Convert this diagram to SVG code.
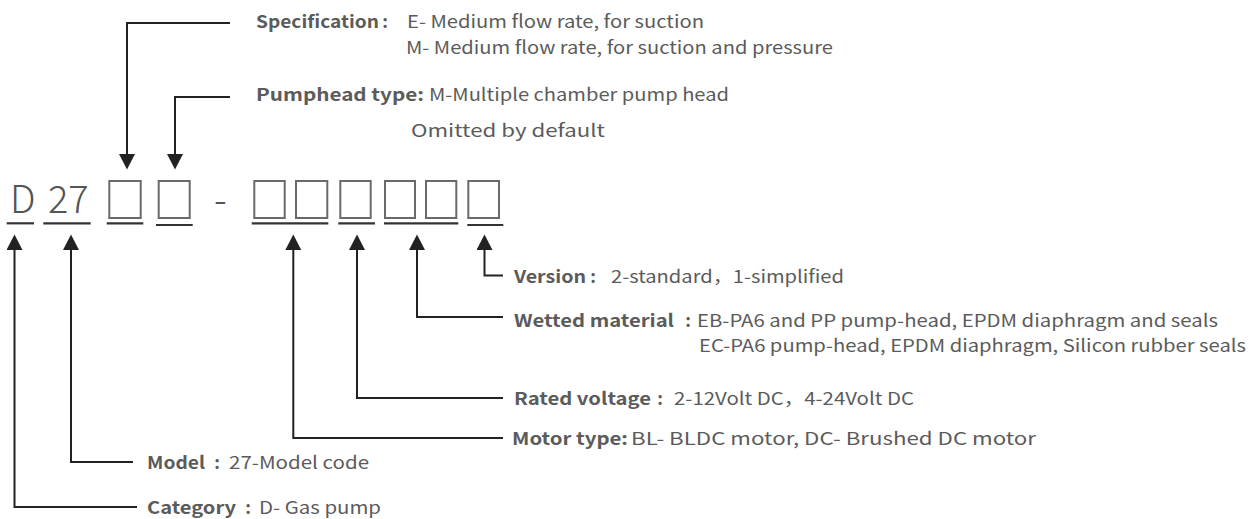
<svg xmlns="http://www.w3.org/2000/svg" width="1257" height="519" viewBox="0 0 1257 519">
<defs>
<style>
.t{font-family:"Noto Sans CJK SC","Noto Sans",sans-serif;font-size:17.5px;fill:#5b5b5b}
.b{font-weight:bold}
.k{text-anchor:middle}
.big{font-family:"Noto Sans CJK SC","Noto Sans",sans-serif;font-size:38px;font-weight:300;fill:#555}
.box{fill:none;stroke:#6a6a6a;stroke-width:2}
.ul{stroke:#333;stroke-width:2.2}
.c{fill:none;stroke:#222;stroke-width:2}
</style>
<marker id="ah" markerUnits="userSpaceOnUse" markerWidth="16" markerHeight="16" refX="0" refY="8" orient="auto" viewBox="0 0 16 16">
<path d="M0,0 L15.5,8 L0,16 z" fill="#222"/>
</marker>
</defs>
<rect width="1257" height="519" fill="#fff"/>

<g id="code">
<text class="big" x="10" y="213">D</text>
<text class="big" x="48" y="213">27</text>
<text class="big" x="214" y="213">-</text>
<rect class="box" x="109.3" y="181" width="31.4" height="37"/>
<rect class="box" x="158.7" y="181" width="31" height="37"/>
<rect class="box" x="254.3" y="181" width="30.4" height="37"/>
<rect class="box" x="296" y="181" width="31.3" height="37"/>
<rect class="box" x="340.3" y="181" width="30.4" height="37"/>
<rect class="box" x="385" y="181" width="30" height="37"/>
<rect class="box" x="426" y="181" width="30.3" height="37"/>
<rect class="box" x="468.3" y="181" width="30.7" height="37"/>
<line class="ul" x1="6.7" y1="223.3" x2="34" y2="223.3"/>
<line class="ul" x1="43.3" y1="223.3" x2="90.7" y2="223.3"/>
<line class="ul" x1="106.7" y1="223.3" x2="143.3" y2="223.3"/>
<line class="ul" x1="156" y1="225" x2="192.7" y2="225"/>
<line class="ul" x1="251.7" y1="223.3" x2="328.3" y2="223.3"/>
<line class="ul" x1="338.3" y1="223.3" x2="375" y2="223.3"/>
<line class="ul" x1="384" y1="223.3" x2="458.3" y2="223.3"/>
<line class="ul" x1="467.3" y1="225" x2="503.3" y2="225"/>
</g>

<g id="connectors">
<path class="c" d="M230,23 H127 V154" marker-end="url(#ah)"/>
<path class="c" d="M230,97 H175 V154" marker-end="url(#ah)"/>
<path class="c" d="M137,507 H14.5 V250" marker-end="url(#ah)"/>
<path class="c" d="M133,462 H71 V250" marker-end="url(#ah)"/>
<path class="c" d="M503,438 H293.3 V250" marker-end="url(#ah)"/>
<path class="c" d="M503,398 H357 V250" marker-end="url(#ah)"/>
<path class="c" d="M503,317 H417 V250" marker-end="url(#ah)"/>
<path class="c" d="M503,275.5 H484.5 V250" marker-end="url(#ah)"/>
</g>

<g id="specification">
<text class="t b" x="256" y="28" textLength="123" lengthAdjust="spacingAndGlyphs">Specification</text>
<text class="t b k" x="385" y="28">:</text>
<text class="t" x="407" y="28" textLength="297" lengthAdjust="spacingAndGlyphs">E- Medium flow rate, for suction</text>
<text class="t" x="406" y="54" textLength="427" lengthAdjust="spacingAndGlyphs">M- Medium flow rate, for suction and pressure</text>
</g>
<g id="pumphead">
<text class="t b" x="256" y="101" textLength="168" lengthAdjust="spacingAndGlyphs">Pumphead type:</text>
<text class="t" x="429" y="101" textLength="300" lengthAdjust="spacingAndGlyphs">M-Multiple chamber pump head</text>
<text class="t" x="411" y="137" textLength="194" lengthAdjust="spacingAndGlyphs">Omitted by default</text>
</g>
<g id="version">
<text class="t b" x="514" y="283" textLength="72" lengthAdjust="spacingAndGlyphs">Version</text>
<text class="t b k" x="593" y="283">:</text>
<text class="t" x="611" y="283" textLength="233" lengthAdjust="spacingAndGlyphs">2-standard，1-simplified</text>
</g>
<g id="wetted">
<text class="t b" x="514" y="327" textLength="160" lengthAdjust="spacingAndGlyphs">Wetted material</text>
<text class="t b k" x="688" y="327">:</text>
<text class="t" x="697" y="327" textLength="521" lengthAdjust="spacingAndGlyphs">EB-PA6 and PP pump-head, EPDM diaphragm and seals</text>
<text class="t" x="699" y="352" textLength="547" lengthAdjust="spacingAndGlyphs">EC-PA6 pump-head, EPDM diaphragm, Silicon rubber seals</text>
</g>
<g id="rated">
<text class="t b" x="514" y="405" textLength="137" lengthAdjust="spacingAndGlyphs">Rated voltage</text>
<text class="t b k" x="660" y="405">:</text>
<text class="t" x="674" y="405" textLength="240" lengthAdjust="spacingAndGlyphs">2-12Volt DC，4-24Volt DC</text>
</g>
<g id="motor">
<text class="t b" x="512" y="445" textLength="116" lengthAdjust="spacingAndGlyphs">Motor type:</text>
<text class="t" x="631" y="445" textLength="405" lengthAdjust="spacingAndGlyphs">BL- BLDC motor, DC- Brushed DC motor</text>
</g>
<g id="model">
<text class="t b" x="147" y="469" textLength="58" lengthAdjust="spacingAndGlyphs">Model</text>
<text class="t b k" x="217" y="469">:</text>
<text class="t" x="229" y="469" textLength="140" lengthAdjust="spacingAndGlyphs">27-Model code</text>
</g>
<g id="category">
<text class="t b" x="147" y="514" textLength="89" lengthAdjust="spacingAndGlyphs">Category</text>
<text class="t b k" x="248" y="514">:</text>
<text class="t" x="259" y="514" textLength="122" lengthAdjust="spacingAndGlyphs">D- Gas pump</text>
</g>
</svg>
